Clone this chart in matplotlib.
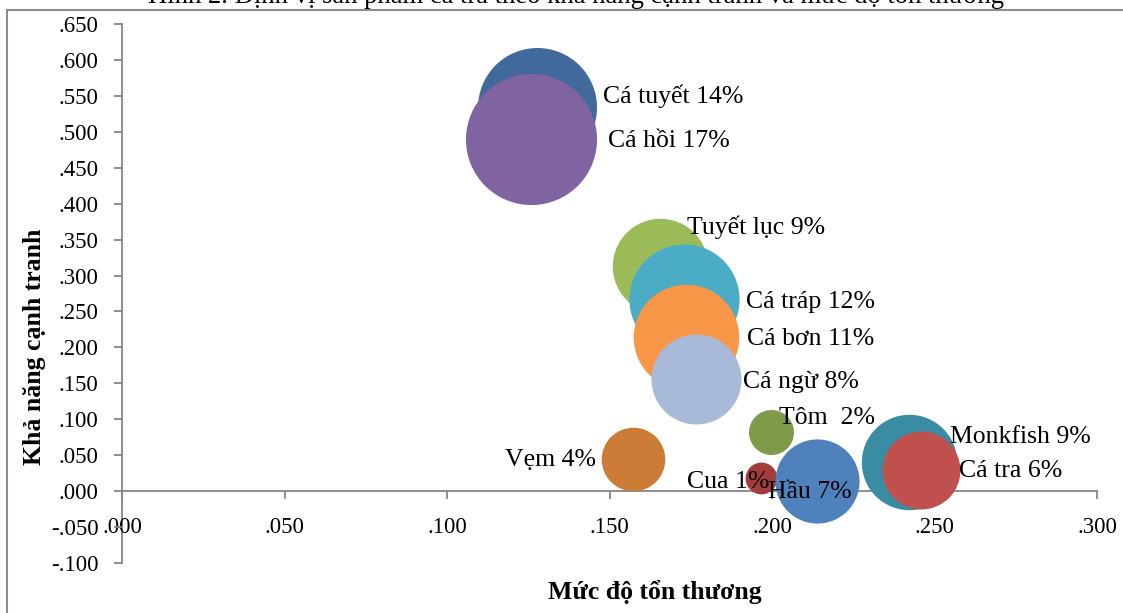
import matplotlib
matplotlib.use("Agg")
import matplotlib.pyplot as plt
from matplotlib.patches import Rectangle
import numpy as np

plt.rcParams['font.family'] = ['Liberation Serif', 'DejaVu Serif']

# Products: vulnerability (x), competitiveness (y), market share in %
products = ["Cá tuyết", "Cá hồi", "Tuyết lục", "Cá tráp", "Cá bơn", "Cá ngừ",
            "Tôm ", "Vẹm", "Cua", "Hầu", "Monkfish", "Cá tra"]
vulnerability = [0.1278, 0.1258, 0.1655, 0.1729, 0.1735, 0.1766,
                 0.1997, 0.1572, 0.1966, 0.2140, 0.2422, 0.2458]
competitiveness = [0.5351, 0.4906, 0.3132, 0.2672, 0.2143, 0.1559,
                   0.0821, 0.0445, 0.0181, 0.0139, 0.0404, 0.0292]
share = [14, 17, 9, 12, 11, 8, 2, 4, 1, 7, 9, 6]
colors = ["#41699B", "#8064A2", "#9BBB59", "#4BACC6", "#F79646", "#A9BAD8",
          "#7F9A48", "#CC7B37", "#A33C3A", "#4F81BD", "#3A8CA2", "#C0504D"]

# label placement relative to bubble centre (pixels, right/up positive)
label_dx = [66, 77, 27, 62, 61, 47, 8, -37, -74, -49, 41, 38]
label_dy = [10, -2, 39, -3, -2, -3, 14, -1, -4, -11, 25, -1]

x_ticks = np.arange(0, 0.3001, 0.05)
y_ticks = np.arange(-0.1, 0.6501, 0.05)

DPI = 100
W, H = 1123, 613
fig = plt.figure(figsize=(W / DPI, H / DPI), dpi=DPI)
ax = fig.add_axes([122 / W, 1 - 563 / H, 975 / W, 539 / H])
ax.set_xlim(0, 0.3)
ax.set_ylim(-0.1, 0.65)

# bubble radius grows with the square root of the share (area ~ share)
px_per_root = 15.9
sizes = [(2 * px_per_root * np.sqrt(s) * 72 / DPI) ** 2 for s in share]

for i in range(len(products)):
    ax.scatter(vulnerability[i], competitiveness[i], s=sizes[i], color=colors[i],
               linewidths=0, zorder=3 + i * 0.01, clip_on=False)

for i, name in enumerate(products):
    ha = "right" if name == "Vẹm" else "left"
    ax.annotate(f"{name} {share[i]}%", (vulnerability[i], competitiveness[i]),
                xytext=(label_dx[i], label_dy[i]), textcoords="offset pixels",
                ha=ha, va="center", fontsize=18.5, color="black", zorder=10)

def fmt(v):
    s = f"{v:.3f}"
    if s in ("-0.000", "0.000"):
        return ".000"
    return s.replace("0.", ".", 1)

axis_grey = "#868686"
for side in ("top", "right"):
    ax.spines[side].set_visible(False)
ax.spines["left"].set_position(("data", 0))
ax.spines["bottom"].set_position(("data", 0))
for side in ("left", "bottom"):
    ax.spines[side].set_color(axis_grey)
    ax.spines[side].set_linewidth(1.3)
    ax.spines[side].set_zorder(1)

ax.set_xticks(x_ticks)
ax.set_xticklabels([fmt(v) for v in x_ticks])
ax.set_yticks(y_ticks)
ax.set_yticklabels([fmt(v) for v in y_ticks])
ax.tick_params(axis="both", direction="out", length=5.8, width=1.3,
               color=axis_grey, labelsize=16.5, labelcolor="black")
ax.tick_params(axis="y", pad=11)
ax.tick_params(axis="x", pad=13)
ax.patch.set_visible(False)

fig.text(35 / W, 1 - 347 / H, "Khả năng cạnh tranh", rotation=90,
         ha="center", va="center", fontsize=18.5, fontweight="bold")
fig.text(655 / W, 1 - 592 / H, "Mức độ tổn thương",
         ha="center", va="center", fontsize=18.5, fontweight="bold")

fig.text(576 / W, 1 - 3 / H,
         "Hình 2. Định vị sản phẩm cá tra theo khả năng cạnh tranh và mức độ tổn thương",
         ha="center", va="baseline", fontsize=19.2)

# chart frame (its right and bottom edges run past the figure edge)
fig.add_artist(Rectangle((7 / W, -0.05), 1.05, 1.05 - 10 / H,
                         transform=fig.transFigure, fill=False,
                         edgecolor="#8C8C8C", linewidth=1.5))

fig.savefig("out.png", dpi=DPI)
